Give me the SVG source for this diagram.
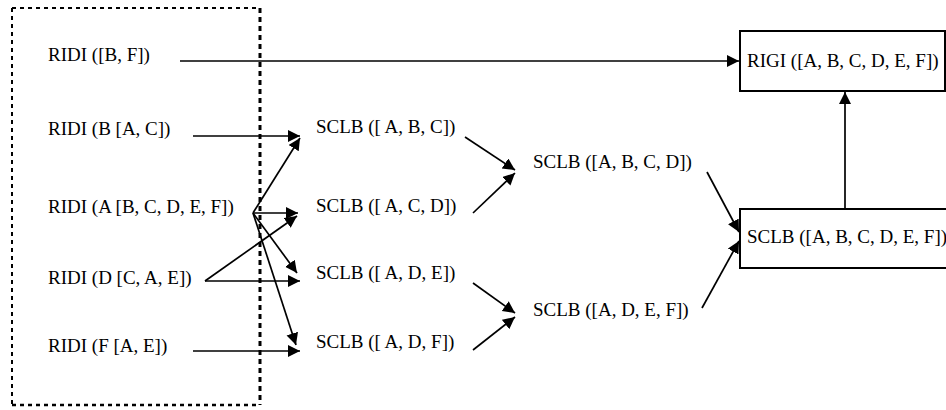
<svg xmlns="http://www.w3.org/2000/svg" width="946" height="410" viewBox="0 0 946 410">
<style>
text { font-family: "Liberation Serif", "Times New Roman", serif; font-size: 19px; fill: #000; }
.c { stroke: #000; stroke-width: 1.7; fill: none; marker-end: url(#ah); }
.box { fill: #fff; stroke: #000; stroke-width: 2; }
.dot { stroke: #000; fill: none; }
</style>
<defs>
<marker id="ah" markerUnits="userSpaceOnUse" markerWidth="14" markerHeight="14" refX="12" refY="6" orient="auto">
<path d="M0,0 L12,6 L0,12 z" fill="#000"/>
</marker>
</defs>
<rect width="946" height="410" fill="#fff"/>
<g id="group-box">
<line class="dot" x1="12" y1="8" x2="260" y2="8" stroke-width="2" stroke-dasharray="4 4"/>
<line class="dot" x1="12" y1="8" x2="12" y2="405" stroke-width="2" stroke-dasharray="4 4"/>
<line class="dot" x1="12" y1="405" x2="260" y2="405" stroke-width="2.5" stroke-dasharray="4 4"/>
<line class="dot" x1="260" y1="8" x2="260" y2="405" stroke-width="3" stroke-dasharray="5 4"/>
</g>
<g id="connectors">
<line class="c" x1="180" y1="61" x2="739" y2="61"/>
<line class="c" x1="193" y1="136" x2="300" y2="136"/>
<line class="c" x1="253" y1="213" x2="300" y2="138"/>
<line class="c" x1="253" y1="213" x2="298" y2="213"/>
<line class="c" x1="253" y1="213" x2="297" y2="273"/>
<line class="c" x1="253" y1="213" x2="296" y2="345"/>
<line class="c" x1="205" y1="281" x2="297" y2="216"/>
<line class="c" x1="205" y1="281" x2="300" y2="281"/>
<line class="c" x1="193" y1="351" x2="300" y2="351"/>
<line class="c" x1="465" y1="137" x2="515" y2="170"/>
<line class="c" x1="473" y1="213" x2="515" y2="173"/>
<line class="c" x1="473" y1="283" x2="515" y2="313"/>
<line class="c" x1="473" y1="350" x2="515" y2="317"/>
<line class="c" x1="707" y1="172" x2="739" y2="232"/>
<line class="c" x1="702" y1="308" x2="739" y2="241"/>
<line class="c" x1="845" y1="209" x2="845" y2="92"/>
</g>
<g id="ridi-bf"><text x="48" y="61">RIDI ([B, F])</text></g>
<g id="ridi-b"><text x="48" y="135">RIDI (B [A, C])</text></g>
<g id="ridi-a"><text x="48" y="213">RIDI (A [B, C, D, E, F])</text></g>
<g id="ridi-d"><text x="48" y="284">RIDI (D [C, A, E])</text></g>
<g id="ridi-f"><text x="48" y="352">RIDI (F [A, E])</text></g>
<g id="sclb-abc"><text x="316" y="133">SCLB ([ A, B, C])</text></g>
<g id="sclb-acd"><text x="316" y="212">SCLB ([ A, C, D])</text></g>
<g id="sclb-ade"><text x="316" y="279">SCLB ([ A, D, E])</text></g>
<g id="sclb-adf"><text x="316" y="348">SCLB ([ A, D, F])</text></g>
<g id="sclb-abcd"><text x="533" y="168">SCLB ([A, B, C, D])</text></g>
<g id="sclb-adef"><text x="533" y="316">SCLB ([A, D, E, F])</text></g>
<g id="rigi"><rect class="box" x="740" y="31" width="205" height="60"/><text x="747" y="67">RIGI ([A, B, C, D, E, F])</text></g>
<g id="sclb-all"><rect class="box" x="740" y="209" width="210" height="59"/><text x="747" y="243">SCLB ([A, B, C, D, E, F])</text></g>
</svg>
